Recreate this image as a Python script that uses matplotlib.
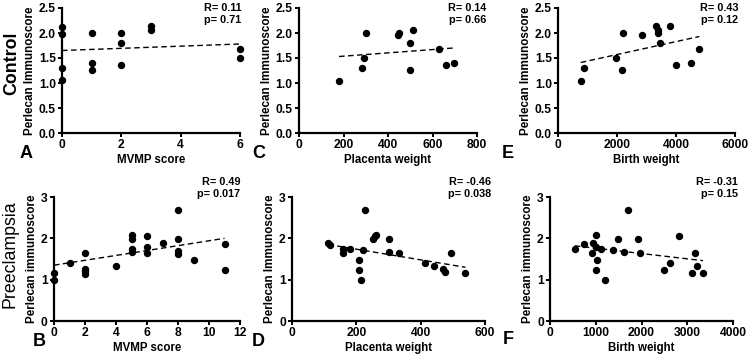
import matplotlib
matplotlib.use('Agg')
import matplotlib.pyplot as plt
import numpy as np

plt.rcParams['font.family'] = ['Liberation Sans', 'DejaVu Sans']
plt.rcParams['font.weight'] = 'bold'

# Control group
ctrl_mvmp = [0, 0, 0, 0, 1, 1, 1, 2, 2, 2, 3, 3, 6, 6]
ctrl_mvmp_y = [2.13, 1.98, 1.31, 1.06, 2.01, 1.41, 1.26, 2.01, 1.81, 1.36, 2.14, 2.06, 1.68, 1.51]

ctrl_plac = [180, 300, 290, 285, 445, 451, 499, 513, 499, 629, 659, 695]
ctrl_plac_y = [1.05, 2.01, 1.51, 1.30, 1.96, 2.00, 1.81, 2.06, 1.26, 1.68, 1.36, 1.41]

ctrl_bw = [770, 883, 2208, 1970, 2185, 2853, 3330, 3375, 3400, 3443, 3783, 3998, 4507, 4790]
ctrl_bw_y = [1.05, 1.30, 2.00, 1.51, 1.26, 1.96, 2.14, 2.06, 2.01, 1.81, 2.14, 1.36, 1.41, 1.68]

# Preeclampsia group
pe_mvmp = [0, 0, 1, 2, 2, 2, 2, 4, 5, 5, 5, 5, 6, 6, 6, 7, 8, 8, 8, 8, 9, 11, 11]
pe_mvmp_y = [1.16, 1.00, 1.40, 1.64, 1.26, 1.20, 1.13, 1.34, 2.08, 1.98, 1.74, 1.68,
             2.06, 1.78, 1.64, 1.89, 2.69, 1.98, 1.70, 1.63, 1.48, 1.86, 1.24]

pe_plac = [113, 118, 157, 160, 181, 207, 207, 213, 222, 226, 252, 258, 261,
           300, 303, 334, 415, 442, 469, 477, 493, 539]
pe_plac_y = [1.88, 1.85, 1.64, 1.75, 1.75, 1.48, 1.24, 0.99, 1.71, 2.69, 1.99, 2.06, 2.09,
             1.67, 1.99, 1.64, 1.41, 1.34, 1.26, 1.18, 1.64, 1.15]

pe_bw = [541, 752, 934, 926, 1000, 1000, 1035, 1006, 1107, 1209, 1376, 1492, 1616,
         1696, 1928, 1972, 2495, 2633, 2814, 3112, 3163, 3220, 3344]
pe_bw_y = [1.73, 1.86, 1.89, 1.64, 2.07, 1.80, 1.48, 1.24, 1.75, 0.99, 1.71, 1.98, 1.67,
           2.69, 1.98, 1.64, 1.24, 1.40, 2.06, 1.15, 1.64, 1.34, 1.16]

# fitted line end points
fit_A = [1.65, 1.78]
fit_C = [1.53, 1.70]
fit_E = [1.41, 1.93]
fit_B = [1.35, 2.00]
fit_D = [1.85, 1.30]
fit_F = [1.82, 1.46]

stats = {'A': 'R= 0.11\np= 0.71', 'C': 'R= 0.14\np= 0.66', 'E': 'R= 0.43\np= 0.12',
         'B': 'R= 0.49\np= 0.017', 'D': 'R= -0.46\np= 0.038', 'F': 'R= -0.31\np= 0.15'}

W, H = 750, 356
fig = plt.figure(figsize=(7.5, 3.56), dpi=100)


def box(l, r, t, b):
    return [l / W, 1 - b / H, (r - l) / W, (b - t) / H]


panels = [
    ('A', box(62, 240, 8, 133), ctrl_mvmp, ctrl_mvmp_y, fit_A, 'MVMP score', 'Perlecan Immunoscore',
     (0, 6), [0, 2, 4, 6], (0, 2.5), [0.0, 0.5, 1.0, 1.5, 2.0, 2.5], '%.1f', (26, 153), (241, 3)),
    ('C', box(299, 477, 8, 133), ctrl_plac, ctrl_plac_y, fit_C, 'Placenta weight', 'Perlecan Immunoscore',
     (0, 800), [0, 200, 400, 600, 800], (0, 2.5), [0.0, 0.5, 1.0, 1.5, 2.0, 2.5], '%.1f', (259, 153), (486, 3)),
    ('E', box(558, 735, 8, 133), ctrl_bw, ctrl_bw_y, fit_E, 'Birth weight', 'Perlecan Immunoscore',
     (0, 6000), [0, 2000, 4000, 6000], (0, 2.5), [0.0, 0.5, 1.0, 1.5, 2.0, 2.5], '%.1f', (508, 153), (738, 3)),
    ('B', box(54, 240, 197, 321), pe_mvmp, pe_mvmp_y, fit_B, 'MVMP score', 'Perlecan immunoscore',
     (0, 12), [0, 2, 4, 6, 8, 10, 12], (0, 3), [0, 1, 2, 3], '%d', (39, 341), (240, 177)),
    ('D', box(292, 485, 197, 321), pe_plac, pe_plac_y, fit_D, 'Placenta weight', 'Perlecan Immunoscore',
     (0, 600), [0, 200, 400, 600], (0, 3), [0, 1, 2, 3], '%d', (258, 341), (491, 177)),
    ('F', box(550, 733, 197, 321), pe_bw, pe_bw_y, fit_F, 'Birth weight', 'Perlecan immunoscore',
     (0, 4000), [0, 1000, 2000, 3000, 4000], (0, 3), [0, 1, 2, 3], '%d', (508, 340), (738, 177)),
]

for (lab, rect, x, y, fit, xl, yl, xlim, xt, ylim, yt, yfmt, lpos, spos) in panels:
    ax = fig.add_axes(rect)
    ax.plot(x, y, 'o', color='black', markersize=4.3, clip_on=False, zorder=3)
    ax.plot([min(x), max(x)], fit, '--', color='black', linewidth=1.0, dashes=(4, 2.5))
    ax.set_xlim(*xlim)
    ax.set_ylim(*ylim)
    ax.set_xticks(xt)
    ax.set_yticks(yt)
    ax.set_yticklabels([yfmt % v for v in yt])
    for s in ['top', 'right']:
        ax.spines[s].set_visible(False)
    for s in ['left', 'bottom']:
        ax.spines[s].set_linewidth(1.6)
    ax.tick_params(direction='out', length=3, width=1.4, labelsize=8.7, pad=1.5)
    for t in ax.get_xticklabels() + ax.get_yticklabels():
        t.set_fontweight('bold')
    ax.set_xlabel(xl, fontsize=8.3, fontweight='bold', labelpad=2)
    ax.set_ylabel(yl, fontsize=8.4, fontweight='bold', labelpad=2)
    fig.text(lpos[0] / W, 1 - lpos[1] / H, lab, fontsize=13, fontweight='bold',
             ha='center', va='center')
    fig.text(spos[0] / W, 1 - spos[1] / H, stats[lab], fontsize=7.8, fontweight='bold',
             ha='right', va='top', linespacing=1.3)

fig.text(12 / W, 1 - 63 / H, 'Control', fontsize=12.8, fontweight='bold', rotation=90,
         ha='center', va='center')
fig.text(10 / W, 1 - 254 / H, 'Preeclampsia', fontsize=12.8, fontweight='normal', rotation=90,
         ha='center', va='center')

fig.savefig('out.png', dpi=100)
